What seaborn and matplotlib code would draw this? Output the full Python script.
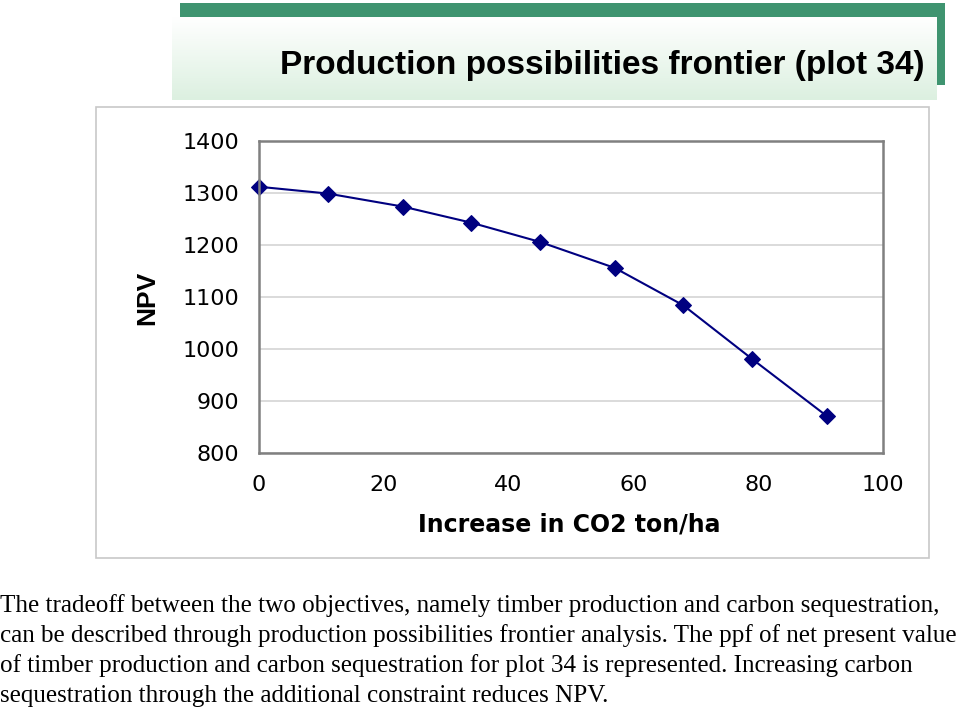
import numpy as np
import matplotlib
matplotlib.use("Agg")
import matplotlib.pyplot as plt
import seaborn as sns
from matplotlib.patches import Rectangle

# ==================== 数据 ====================
co2_increase = [0, 11, 23, 34, 45, 57, 68, 79, 91]
npv = [1312, 1299, 1274, 1243, 1206, 1156, 1084, 981, 871]
x_ticks = [0, 20, 40, 60, 80, 100]
y_ticks = [800, 900, 1000, 1100, 1200, 1300, 1400]

title_text = "Production possibilities frontier (plot 34)"
body_lines = [
    "The tradeoff between the two objectives, namely timber production and carbon sequestration,",
    "can be described through production possibilities frontier analysis. The ppf of net present value",
    "of timber production and carbon sequestration for plot 34 is represented. Increasing carbon",
    "sequestration through the additional constraint reduces NPV.",
]

sns.set_style("white")
plt.rcParams['font.family'] = ['Liberation Sans', 'DejaVu Sans']
plt.rcParams['text.color'] = 'black'
plt.rcParams['axes.labelcolor'] = 'black'
plt.rcParams['xtick.color'] = 'black'
plt.rcParams['ytick.color'] = 'black'

W, H = 960, 710
fig = plt.figure(figsize=(W / 100, H / 100), dpi=100)


def px_rect(x0, y0, x1, y1, **kw):
    # 像素坐标 -> figure 坐标
    return Rectangle((x0 / W, 1 - y1 / H), (x1 - x0) / W, (y1 - y0) / H,
                     transform=fig.transFigure, **kw)


# ==================== 标题横幅 ====================
grad = np.linspace(0, 1, 100).reshape(-1, 1)
bg = fig.add_axes([172 / W, 1 - 100 / H, (937 - 172) / W, (100 - 17) / H])
bg.imshow(grad, aspect='auto', extent=[0, 1, 0, 1],
          cmap=matplotlib.colors.LinearSegmentedColormap.from_list(
              'g', ['#ffffff', '#dcf0e0']))
bg.axis('off')
fig.patches.append(px_rect(180, 3, 945, 17, facecolor='#3f9470', edgecolor='none'))
fig.patches.append(px_rect(937, 3, 945, 85, facecolor='#3f9470', edgecolor='none'))
fig.text(925 / W, 1 - 74 / H, title_text, ha='right', va='baseline',
         fontsize=24, fontweight='bold')

# ==================== 图表外框 ====================
fig.patches.append(px_rect(96, 107, 929, 558, facecolor='white',
                           edgecolor='#c8c8c8', linewidth=1.2, zorder=-1))

ax = fig.add_axes([259 / W, 1 - 453 / H, 624 / W, 312 / H])
ax.patch.set_alpha(0)
sns.lineplot(x=co2_increase, y=npv, ax=ax, color='#000080', linewidth=1.5,
             marker='D', markersize=8, markeredgecolor='#000080', clip_on=False)
ax.set_xlim(0, 100)
ax.set_ylim(800, 1400)
ax.set_xticks(x_ticks)
ax.set_yticks(y_ticks)
ax.yaxis.grid(True, color='#d4d4d4', linewidth=1.2)
ax.set_axisbelow(True)
for sp in ax.spines.values():
    sp.set_color('#808080')
    sp.set_linewidth(1.8)
ax.tick_params(axis='both', direction='out', length=5, width=1,
               color='#a0a0a0', labelsize=16)
ax.tick_params(axis='y', pad=9)
ax.tick_params(axis='x', pad=11)
for lbl in ax.get_xticklabels() + ax.get_yticklabels():
    lbl.set_family('DejaVu Sans')
ax.set_xlabel('Increase in CO2 ton/ha', fontsize=17, fontweight='bold',
              family='DejaVu Sans')
ax.set_ylabel('NPV', fontsize=19, fontweight='bold')
ax.xaxis.set_label_coords(0.497, -0.19)
ax.yaxis.set_label_coords(-0.16, 0.497)

# ==================== 正文 ====================
for i, line in enumerate(body_lines):
    fig.text(0.0 / W, 1 - (612 + 30 * i) / H, line, ha='left', va='baseline',
             fontsize=18.1, family=['Liberation Serif', 'DejaVu Serif'])

fig.savefig('out.png', dpi=100)
